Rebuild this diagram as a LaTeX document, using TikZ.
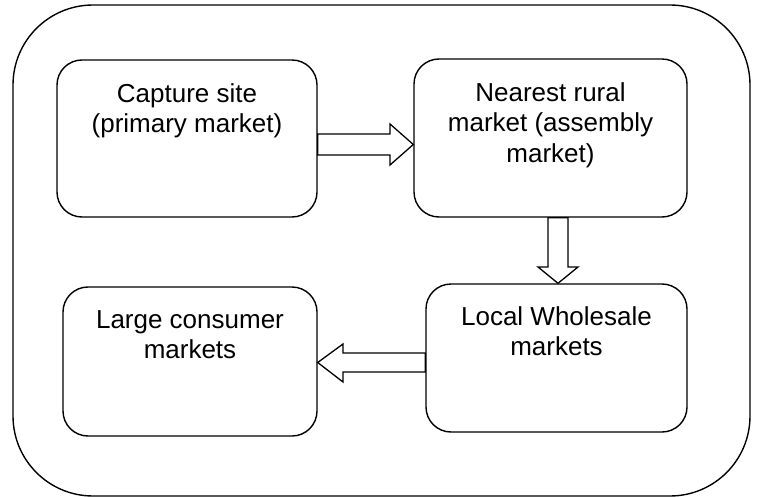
\documentclass[tikz,border=0pt]{standalone}
\usepackage{fontspec}
\setmainfont{Liberation Sans}
\tikzset{
  outerbox/.style={draw=black, line width=1.4pt, rounded corners=80pt},
  box/.style={draw=black, line width=1.4pt, rounded corners=25pt, fill=white},
  lbl/.style={anchor=north, inner sep=0pt, align=center,
    font=\fontsize{26pt}{30.5pt}\selectfont},
  barrow/.style={draw=black, fill=white, line width=1.3pt, line join=miter}
}
\begin{document}
\begin{tikzpicture}[x=1pt, y=-1pt]
\useasboundingbox (0,0) rectangle (757,497);
\draw[outerbox] (13,5) rectangle (750,496);
% boxes
\node[box, minimum width=260pt, minimum height=157pt, inner sep=0pt] (b1) at (187,138.5) {};
\node[box, minimum width=273pt, minimum height=158pt, inner sep=0pt] (b2) at (550.5,138) {};
\node[box, minimum width=261pt, minimum height=148pt, inner sep=0pt] (b3) at (556.5,358) {};
\node[box, minimum width=254pt, minimum height=149pt, inner sep=0pt] (b4) at (190,361.5) {};
% labels
\node[lbl] (t1) at ([yshift=-24pt]b1.north) {Capture site\\(primary market)};
\node[lbl] (t2) at ([yshift=-24pt]b2.north) {Nearest rural\\market (assembly\\market)};
\node[lbl] (t3) at ([yshift=-23pt]b3.north) {Local Wholesale\\markets};
\node[lbl] (t4) at ([yshift=-24pt]b4.north) {Large consumer\\markets};
% block arrows
\draw[barrow] (b1.east |- 0,134) -- (390,134) -- (390,124) -- (b2.west |- 0,144.5)
  -- (390,165) -- (390,155) -- (b1.east |- 0,155) -- cycle;
\draw[barrow] (b2.south -| 548,0) -- (548,267) -- (538,267) -- (b3.north -| 558,0)
  -- (578,267) -- (568,267) -- (b2.south -| 568,0) -- cycle;
\draw[barrow] (b3.west |- 0,353) -- (343,353) -- (343,344) -- (b4.east |- 0,362.5)
  -- (343,382) -- (343,372) -- (b3.west |- 0,372) -- cycle;
\end{tikzpicture}
\end{document}
